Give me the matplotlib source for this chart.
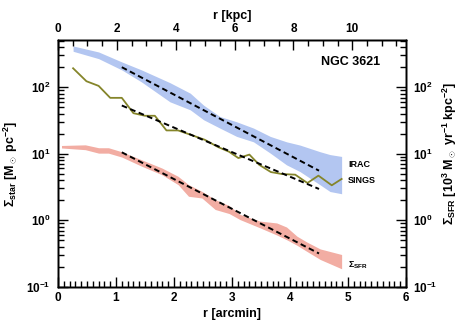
import matplotlib
matplotlib.use("Agg")
import matplotlib.pyplot as plt
from matplotlib.ticker import LogLocator, MultipleLocator, NullFormatter, FixedLocator

# ---------------- data ----------------
# IRAC stellar mass surface density band  [Msun pc^-2]
r_irac = [0.26, 0.70, 1.10, 1.44, 1.93, 2.28, 2.51, 2.79, 3.08, 3.37, 3.66, 3.94, 4.17, 4.52, 4.69, 4.89]
irac_hi = [417, 339, 240, 182, 117, 81.3, 53.7, 36.3, 30.2, 24.3, 18.2, 15.1, 13.5, 10.7, 9.7, 9.1]
irac_lo = [347, 269, 182, 120, 60.3, 45.7, 32.4, 24.3, 18.2, 15.1, 10.2, 6.8, 5.4, 3.4, 2.7, 2.5]

# SINGS profile
r_sings = [0.26, 0.49, 0.70, 0.90, 1.10, 1.30, 1.50, 1.67, 1.87, 2.07, 2.30, 2.53, 2.76, 2.95,
           3.11, 3.30, 3.47, 3.67, 3.86, 4.09, 4.30, 4.49, 4.72, 4.89]
sings = [192.8, 123, 104.7, 69.2, 69.2, 40.7, 37.2, 37.2, 22.4, 22.4, 19.1, 16.2, 12.6, 10.7,
         8.6, 9.7, 6.8, 5.3, 4.95, 4.84, 3.63, 4.68, 3.35, 4.17]

# SFR surface density band [10^3 Msun yr^-1 kpc^-2]
r_sfr = [0.06, 0.47, 0.70, 0.87, 1.10, 1.44, 1.79, 2.07, 2.25, 2.48, 2.71, 2.95, 3.14, 3.48,
         3.77, 3.94, 4.12, 4.29, 4.52, 4.89]
sfr_hi = [13.3, 13.6, 12.3, 12.3, 10.7, 8.1, 6.1, 4.57, 3.43, 2.72, 2.04, 1.66, 1.22, 0.97,
          0.91, 0.79, 0.575, 0.47, 0.37, 0.305]
sfr_lo = [12.2, 11.5, 10.2, 10.2, 8.9, 6.5, 4.84, 3.43, 2.29, 2.16, 1.45, 1.26, 1.02, 0.77,
          0.60, 0.51, 0.42, 0.34, 0.257, 0.186]

# exponential fits (end points)
fit_r = [1.10, 4.50]
fit_irac = [200.0, 5.56]
fit_sings = [53.1, 2.95]
fit_sfr = [10.5, 0.316]

kpc_per_arcmin = 1.971
x_ticks = [0, 1, 2, 3, 4, 5, 6]
kpc_ticks = [0, 2, 4, 6, 8, 10]
y_limits = [0.1, 513]

labels = ["IRAC", "SINGS", r"$\Sigma_{\rm SFR}$"]
label_y = [6.8, 4.0, 0.21]

# ---------------- style ----------------
plt.rcParams["font.family"] = ["Liberation Sans", "DejaVu Sans"]
plt.rcParams["font.weight"] = "bold"
plt.rcParams["axes.labelweight"] = "bold"
plt.rcParams["mathtext.fontset"] = "custom"
plt.rcParams["mathtext.rm"] = "Liberation Sans:bold"
plt.rcParams["mathtext.it"] = "Liberation Sans:bold"
plt.rcParams["mathtext.bf"] = "Liberation Sans:bold"
plt.rcParams["mathtext.sf"] = "Liberation Sans:bold"
plt.rcParams["mathtext.default"] = "bf"
plt.rcParams["axes.linewidth"] = 1.0

blue = "#b3c6f1"
red = "#f2ada3"
olive = "#85852a"
dash = (0, (2.9, 1.8))

fig = plt.figure(figsize=(4.63, 3.27), dpi=100)
ax = fig.add_axes([0.1253, 0.1232, 0.7516, 0.7545])

ax.fill_between(r_irac, irac_lo, irac_hi, color=blue, lw=0)
ax.fill_between(r_sfr, sfr_lo, sfr_hi, color=red, lw=0)
ax.plot(r_sings, sings, color=olive, lw=1.3)
for f in (fit_irac, fit_sings, fit_sfr):
    ax.plot(fit_r, f, color="black", lw=1.4, linestyle=dash)

ax.set_yscale("log")
ax.set_xlim(0, 6)
ax.set_ylim(*y_limits)

ax.xaxis.set_major_locator(FixedLocator(x_ticks))
ax.xaxis.set_minor_locator(MultipleLocator(0.1))
ax.yaxis.set_major_locator(LogLocator(base=10))
ax.yaxis.set_minor_locator(LogLocator(base=10, subs=range(2, 10)))
ax.yaxis.set_minor_formatter(NullFormatter())
ax.tick_params(which="both", direction="in", top=False, right=False, width=1.0)
ax.tick_params(which="major", length=7.5, labelsize=8.5)
ax.tick_params(which="minor", length=4.2)
ax.tick_params(axis="x", which="major", pad=3.5)
ax.tick_params(axis="y", which="major", pad=5.5)
for t in ax.get_xticklabels() + ax.get_yticklabels():
    t.set_fontweight("bold")

ax.set_xlabel("r [arcmin]", fontsize=9, fontweight="bold", labelpad=3)
ax.set_ylabel(r"$\Sigma_{\rm star}$ [M$_\odot$ pc$^{-2}$]", fontsize=9, va="center",
              fontweight="bold")
ax.yaxis.set_label_coords(-0.135, 0.50)

# right axis
ax2 = ax.twinx()
ax2.set_yscale("log")
ax2.set_ylim(*y_limits)
ax2.yaxis.set_major_locator(LogLocator(base=10))
ax2.yaxis.set_minor_locator(LogLocator(base=10, subs=range(2, 10)))
ax2.yaxis.set_minor_formatter(NullFormatter())
ax2.tick_params(which="both", direction="in", width=1.0)
ax2.tick_params(which="major", length=7.5, labelsize=8.5, pad=5)
ax2.tick_params(which="minor", length=4.2)
ax2.set_ylabel(r"$\Sigma_{\rm SFR}$ [10$^{3}$ M$_\odot$ yr$^{-1}$ kpc$^{-2}$]",
               fontsize=9, va="center", rotation=90, fontweight="bold")
ax2.yaxis.set_label_coords(1.126, 0.54)

# top axis (kpc)
ax3 = ax.twiny()
ax3.set_xlim(0, 6 * kpc_per_arcmin)
ax3.xaxis.set_major_locator(FixedLocator(kpc_ticks))
ax3.xaxis.set_minor_locator(MultipleLocator(0.5))
ax3.tick_params(which="both", direction="in", width=1.0)
ax3.tick_params(which="major", length=7.5, labelsize=8.5, pad=3.5)
ax3.tick_params(which="minor", length=4.2)
ax3.set_xlabel("r [kpc]", fontsize=9, fontweight="bold", labelpad=3)

# annotations
ax.text(0.925, 0.911, "NGC 3621", transform=ax.transAxes, ha="right", va="center",
        fontsize=9, fontweight="bold")
for lab, yv in zip(labels, label_y):
    ax.text(5.0, yv, lab, ha="left", va="center", fontsize=6.5, fontweight="bold")

fig.savefig("out.png", dpi=100)
